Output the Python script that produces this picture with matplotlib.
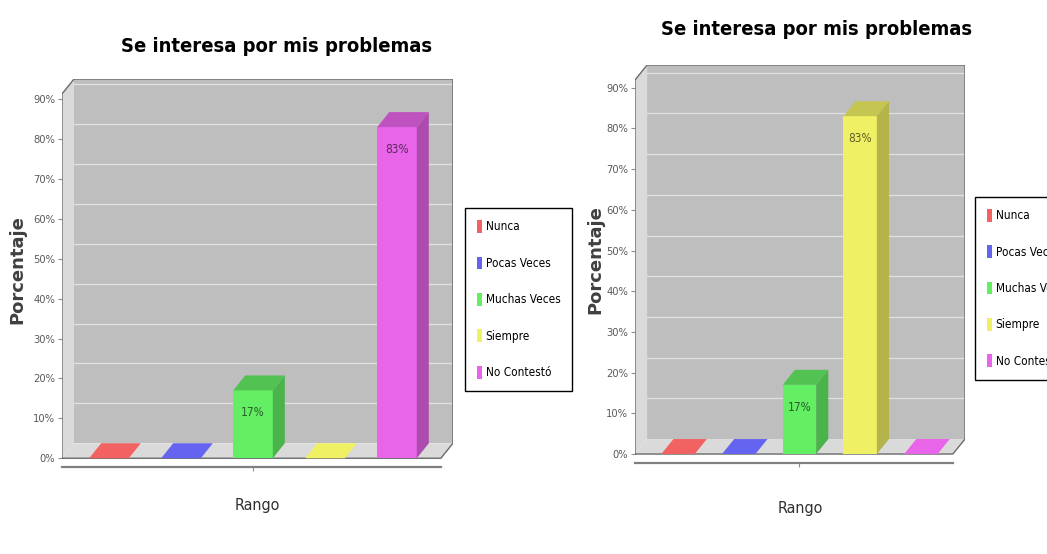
import matplotlib
matplotlib.use('Agg')
import matplotlib.pyplot as plt
import matplotlib.colors as mcolors
from matplotlib.patches import Polygon, Patch
from matplotlib import font_manager as fm

# Datos de los dos graficos
categorias = ['Nunca', 'Pocas Veces', 'Muchas Veces', 'Siempre', 'No Contestó']
valores_izq = [0, 0, 17, 0, 83]
valores_der = [0, 0, 17, 83, 0]
ticks_y = [0, 10, 20, 30, 40, 50, 60, 70, 80, 90]
etiquetas_y = ['0%', '10%', '20%', '30%', '40%', '50%', '60%', '70%', '80%', '90%']
titulo = 'Se interesa por mis problemas'
nombre_eje_x = 'Rango'
nombre_eje_y = 'Porcentaje'

colores = ['#f26262', '#6464f0', '#64ee64', '#f0f064', '#e864e8']
GRIS_FONDO = '#bebebe'
GRIS_PARED = '#dadada'


def buscar_fuente(peso):
    # busca una fuente estrecha instalada (Narrow / Condensed)
    orden = ['Liberation Sans Narrow', 'DejaVu Sans', 'Roboto Condensed', 'Roboto',
             'Noto Sans', 'Open Sans', 'Open Sans Condensed', 'Noto Sans Condensed']
    encontradas = []
    for f in fm.fontManager.ttflist:
        estrecha = ('Narrow' in f.name or 'Condensed' in f.name
                    or str(f.stretch) in ('condensed', 'semi-condensed', 'extra-condensed'))
        if not estrecha or f.style != 'normal':
            continue
        w = f.weight if isinstance(f.weight, int) else fm.weight_dict.get(f.weight, 400)
        if abs(w - peso) > 50:
            continue
        rango = orden.index(f.name) if f.name in orden else len(orden)
        encontradas.append((rango, f.fname))
    if encontradas:
        encontradas.sort()
        return fm.FontProperties(fname=encontradas[0][1])
    return fm.FontProperties(family='DejaVu Sans', weight=peso)


fuente_normal = buscar_fuente(400)
fuente_negrita = buscar_fuente(700)


def fuente(base, tam):
    p = base.copy()
    p.set_size(tam)
    return p


def sombra(color, f):
    r, g, b = mcolors.to_rgb(color)
    return (r * f, g * f, b * f)


def dibujar(ax, valores, x0, x1, dx, dy, ytop, ancho=0.55):
    ax.set_xlim(x0, x1 + dx)
    ax.set_ylim(-2.2, ytop + dy)
    ax.set_facecolor('none')

    # pared del fondo, pared izquierda y piso
    ax.add_patch(Polygon([(x0 + dx, dy), (x1 + dx, dy), (x1 + dx, ytop + dy), (x0 + dx, ytop + dy)],
                         closed=True, fc=GRIS_FONDO, ec='none', zorder=0))
    ax.add_patch(Polygon([(x0, 0), (x0 + dx, dy), (x0 + dx, ytop + dy), (x0, ytop)],
                         closed=True, fc=GRIS_PARED, ec='none', zorder=0))
    ax.add_patch(Polygon([(x0, 0), (x1, 0), (x1 + dx, dy), (x0 + dx, dy)],
                         closed=True, fc=GRIS_PARED, ec='none', zorder=0))
    # lineas de grilla en el fondo
    for t in ticks_y[1:]:
        ax.plot([x0 + dx, x1 + dx], [t + dy, t + dy], color='#e2e2e2', lw=0.9, zorder=1)
    # contorno de la caja
    ax.plot([x0, x0, x0 + dx, x1 + dx, x1 + dx, x1, x0], [0, ytop, ytop + dy, ytop + dy, dy, 0, 0],
            color='#6a6a6a', lw=1.0, zorder=2)

    # barras: cara frontal con bar(), techo y lado con poligonos
    pos = list(range(len(valores)))
    ax.bar(pos, valores, width=ancho, color=colores, zorder=3)
    for i, v in enumerate(valores):
        izq, der = i - ancho / 2, i + ancho / 2
        techo = [(izq, v), (der, v), (der + dx, v + dy), (izq + dx, v + dy)]
        c_techo = colores[i] if v == 0 else sombra(colores[i], 0.82)
        ax.add_patch(Polygon(techo, closed=True, fc=c_techo, ec='none', zorder=3))
        if v > 0:
            lado = [(der, 0), (der + dx, dy), (der + dx, v + dy), (der, v)]
            ax.add_patch(Polygon(lado, closed=True, fc=sombra(colores[i], 0.75), ec='none', zorder=3))
            ax.text(i, v - 5.5, f'{v}%', ha='center', va='center', color=sombra(colores[i], 0.4),
                    fontproperties=fuente(fuente_normal, 8.5), zorder=4)

    # ejes
    ax.set_yticks(ticks_y, etiquetas_y)
    ax.set_xticks([(len(valores) - 1) / 2], [''])
    for lbl in ax.get_yticklabels():
        lbl.set_fontproperties(fuente(fuente_normal, 8))
    ax.tick_params(axis='y', length=3, color='#909090', labelcolor='#5a5a5a', pad=2)
    ax.tick_params(axis='x', length=3, color='#909090')
    for lado in ['top', 'right', 'left']:
        ax.spines[lado].set_visible(False)
    ax.spines['bottom'].set_bounds(x0, x1)
    ax.spines['bottom'].set_color('#808080')
    ax.spines['bottom'].set_linewidth(1.6)


fig = plt.figure(figsize=(10.47, 5.54), dpi=100)

# panel izquierdo
ax1 = fig.add_axes([0.0592, 0.157, 0.3734, 0.7004])
dibujar(ax1, valores_izq, x0=-0.653, x1=4.61, dx=0.167, dy=3.76, ytop=91.3)
# panel derecho
ax2 = fig.add_axes([0.6065, 0.1643, 0.3152, 0.7184])
dibujar(ax2, valores_der, x0=-0.708, x1=4.527, dx=0.2, dy=3.68, ytop=91.9)

# titulos y nombres de ejes
fig.text(0.2646, 0.906, titulo, ha='center', va='baseline', fontproperties=fuente(fuente_negrita, 14.5))
fig.text(0.780, 0.937, titulo, ha='center', va='baseline', fontproperties=fuente(fuente_negrita, 14.5))
fig.text(0.2455, 0.079, nombre_eje_x, ha='center', va='baseline', color='#303030',
         fontproperties=fuente(fuente_normal, 11.5))
fig.text(0.764, 0.074, nombre_eje_x, ha='center', va='baseline', color='#303030',
         fontproperties=fuente(fuente_normal, 11.5))
fig.text(0.017, 0.513, nombre_eje_y, ha='center', va='center', rotation=90, color='#404040',
         fontproperties=fm.FontProperties(family='DejaVu Sans', weight='bold', size=13))
fig.text(0.5685, 0.531, nombre_eje_y, ha='center', va='center', rotation=90, color='#404040',
         fontproperties=fm.FontProperties(family='DejaVu Sans', weight='bold', size=13))

# leyendas
manijas = [Patch(facecolor=c, edgecolor='none') for c in colores]
for x_ley, y_ley in [(0.444, 0.624), (0.9312, 0.6444)]:
    ley = fig.legend(manijas, categorias, loc='upper left', bbox_to_anchor=(x_ley, y_ley),
                     frameon=True, fancybox=False, edgecolor='black', framealpha=1,
                     prop=fuente(fuente_normal, 8.5), handlelength=0.45, handleheight=1.3,
                     handletextpad=0.3, labelspacing=1.95, borderpad=1.0, borderaxespad=0)
    ley.get_frame().set_linewidth(1.0)

fig.savefig('out.png', dpi=100)
